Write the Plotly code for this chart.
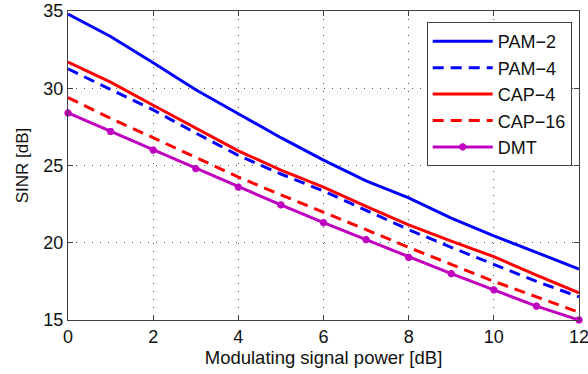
import plotly.graph_objects as go

x_vals = list(range(0, 13))
x_ticks = [0, 2, 4, 6, 8, 10, 12]
y_ticks = [15, 20, 25, 30, 35]

pam2 = [34.8, 33.35, 31.65, 29.9, 28.35, 26.8, 25.35, 24.0, 22.9, 21.6, 20.45, 19.35, 18.3]
pam4 = [31.25, 29.9, 28.6, 27.1, 25.65, 24.45, 23.35, 22.1, 20.85, 19.7, 18.6, 17.5, 16.5]
cap4 = [31.7, 30.4, 28.9, 27.4, 25.95, 24.7, 23.6, 22.35, 21.15, 20.1, 19.1, 17.9, 16.75]
cap16 = [29.4, 28.05, 26.8, 25.5, 24.25, 23.1, 22.0, 20.85, 19.7, 18.6, 17.5, 16.5, 15.5]
dmt = [28.4, 27.2, 26.0, 24.8, 23.6, 22.45, 21.3, 20.2, 19.05, 18.0, 16.95, 15.9, 15.0]

names = ["PAM−2", "PAM−4", "CAP−4", "CAP−16", "DMT"]
series = [pam2, pam4, cap4, cap16, dmt]
colors = ["#0000ff", "#0000ff", "#ff0000", "#ff0000", "#bf00bf"]
dashes = ["solid", "11px,7px", "solid", "11px,7px", "solid"]

fig = go.Figure()
for i, (nm, ys, c, d) in enumerate(zip(names, series, colors, dashes)):
    is_dmt = nm == "DMT"
    fig.add_trace(go.Scatter(
        x=x_vals, y=ys, name=nm, legendgroup=f"g{i}",
        mode="lines+markers" if is_dmt else "lines",
        line=dict(color=c, width=3, dash=d),
        marker=dict(symbol="asterisk-open", size=6, color=c,
                    line=dict(color=c, width=2.5)) if is_dmt else None,
        cliponaxis=False if is_dmt else True,
    ))

font_family = "Liberation Sans, Arial, sans-serif"
axis_common = dict(
    showline=True, linecolor="#404040", linewidth=1, mirror="ticks",
    ticks="inside", ticklen=5, tickcolor="#404040",
    showgrid=True, gridcolor="#555555", griddash="1px,7px", gridwidth=1,
    zeroline=False, automargin=False, ticklabeloverflow="allow",
    tickfont=dict(size=18, color="#111", family=font_family),
)

fig.update_layout(
    width=588, height=374,
    margin=dict(l=68, r=9, t=11, b=54),
    paper_bgcolor="white", plot_bgcolor="white",
    font=dict(family=font_family, color="#111"),
    xaxis=dict(range=[0, 12], tickvals=x_ticks,
               title=dict(text="Modulating signal power [dB]", font=dict(size=18.5), standoff=0),
               **axis_common),
    yaxis=dict(range=[15, 35], tickvals=y_ticks,
               title=dict(text="SINR [dB]", font=dict(size=17), standoff=10),
               **axis_common),
    legend=dict(x=0.702, y=0.964, xanchor="left", yanchor="top",
                bordercolor="#404040", borderwidth=1, bgcolor="white",
                font=dict(size=18, family=font_family, color="#111"),
                tracegroupgap=0, itemwidth=60),
    showlegend=True,
)

fig.write_html("out.html", config={"displayModeBar": False},
               post_script="document.body.style.margin='0px';document.body.style.padding='0px';")
